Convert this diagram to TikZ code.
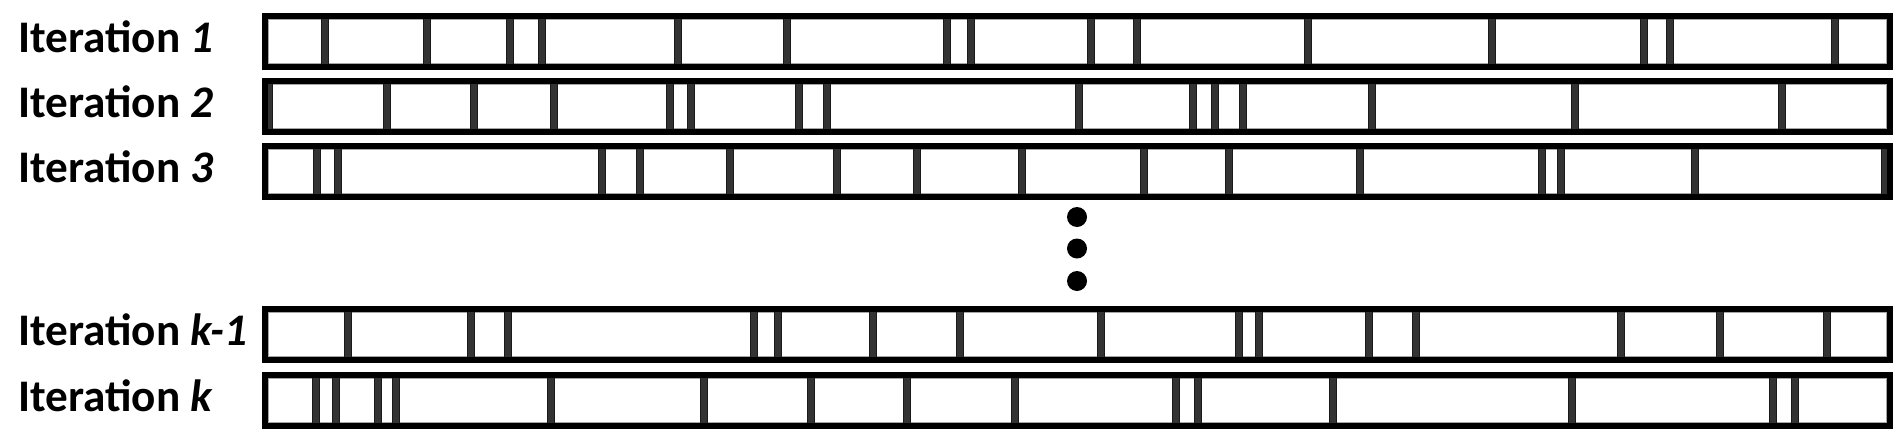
\documentclass[tikz,border=0pt]{standalone}
\usepackage{fontspec}
\setmainfont{Carlito}
\definecolor{barfill}{HTML}{333333}
\begin{document}
\begin{tikzpicture}[x=0.5pt,y=-0.5pt,
  rowbox/.style={draw=black,line width=3pt},
  innerline/.style={draw=black!35,line width=0.4pt},
  divider/.style={fill=barfill,draw=black!90,line width=0.3pt},
  lbl/.style={anchor=base west,inner sep=0pt,font=\fontsize{22.6}{26}\selectfont\bfseries},
  dotmark/.style={circle,fill=black,inner sep=0pt,minimum size=10pt}]
\useasboundingbox (0,0) rectangle (1902,434);
\fill[white] (0,0) rectangle (1902,434);
\newcommand\itstrip[4]{%
  \node[lbl] (#1) at (18,#2+39.5) {Iteration \textit{#3}};
  \fill[white] (265,#2+3) rectangle (1890,#2+54);
  \draw[innerline] (268.5,#2+6.5) rectangle (1886.5,#2+50.5);
  \foreach \x in {#4} {\filldraw[divider] (\x-3.6,#2+5) rectangle (\x+3.6,#2+52);}
  \draw[rowbox] (265,#2+3) rectangle (1890,#2+54);
}
\itstrip{it1}{13}{1}{325,427,510,542,678,787,947,971,1091,1137,1308,1492,1644,1670,1835}
\itstrip{it2}{78}{2}{269,387,474,554,670,691,799,827,1079,1193,1215,1243,1372,1575,1782}
\itstrip{it3}{143}{3}{317,338,602,640,730,837,917,1022,1144,1229,1360,1542,1561,1695,1885}
\itstrip{itkm}{306}{k-1}{348,471,508,754,778,873,960,1101,1239,1259,1369,1416,1621,1720,1827}
\itstrip{itk}{372}{k}{316,336,378,396,551,704,811,907,1015,1176,1198,1333,1572,1773,1795}
\node[dotmark] (d1) at (1077,217) {};
\node[dotmark] (d2) at (1077,248.5) {};
\node[dotmark] (d3) at (1077,281) {};
\end{tikzpicture}
\end{document}
